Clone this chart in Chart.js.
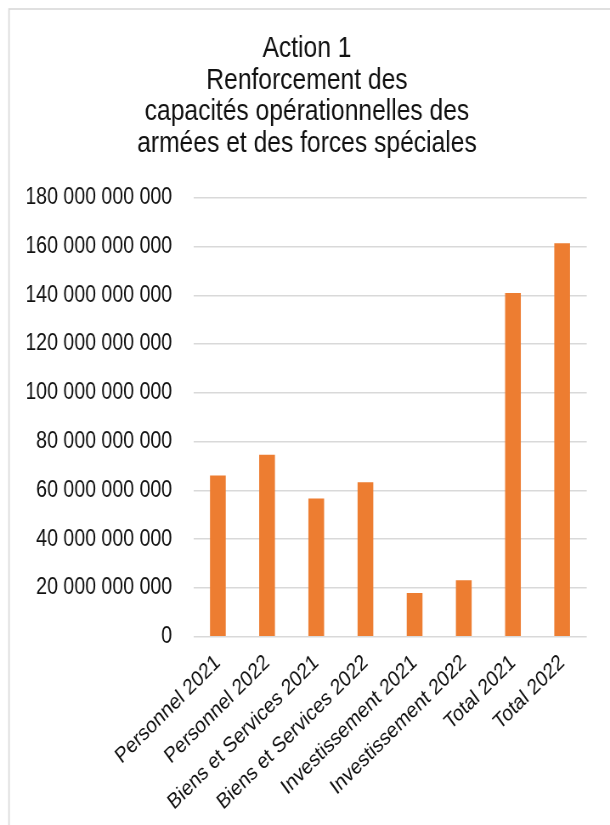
<!DOCTYPE html>
<html>
<head>
<meta charset="utf-8">
<script src="https://cdn.jsdelivr.net/npm/chart.js@4.4.1/dist/chart.umd.min.js"></script>
<style>
  html, body { margin: 0; padding: 0; background: #fff; overflow: hidden; width: 610px; height: 825px; }
  /* the chart is laid out on a wider canvas and narrowed to 610px,
     which gives the condensed lettering of the original sheet */
  #wrap { width: 718px; height: 825px; transform: scaleX(0.84958); transform-origin: 0 0; }
  canvas { display: block; }
</style>
</head>
<body>
<div id="wrap"><canvas id="c" width="718" height="825"></canvas></div>
<script>
// Budget lines for Action 1 (euros)
const categories = [
  'Personnel 2021', 'Personnel 2022',
  'Biens et Services 2021', 'Biens et Services 2022',
  'Investissement 2021', 'Investissement 2022',
  'Total 2021', 'Total 2022'
];
const amounts = [
  66.1e9, 74.6e9,
  56.7e9, 63.3e9,
  17.9e9, 23.2e9,
  141.0e9, 161.4e9
];
const titleLines = [
  'Action 1',
  'Renforcement des',
  'capacités opérationnelles des',
  'armées et des forces spéciales'
];
const axisMax = 180e9;
const axisStep = 20e9;

const FONT = "'Liberation Sans', Arial, sans-serif";
const TEXT = '#111111';

function groupThousands(v) {
  return String(Math.round(v)).replace(/\B(?=(\d{3})+(?!\d))/g, ' ');
}

// white background and thin frame around the chart
const framePlugin = {
  id: 'frame',
  beforeDraw(chart) {
    const ctx = chart.ctx;
    ctx.save();
    ctx.fillStyle = '#ffffff';
    ctx.fillRect(0, 0, chart.width, chart.height);
    ctx.strokeStyle = '#d9d9d9';
    ctx.lineWidth = 1.6;
    ctx.strokeRect(10.6, 9, chart.width + 20, chart.height + 20);
    ctx.restore();
  }
};

function draw() {
  new Chart(document.getElementById('c'), {
    type: 'bar',
    data: {
      labels: categories,
      datasets: [{
        data: amounts,
        backgroundColor: '#ED7D31',
        borderWidth: 0,
        categoryPercentage: 1,
        barPercentage: 0.32
      }]
    },
    options: {
      responsive: false,
      animation: false,
      devicePixelRatio: 1,
      layout: { padding: { left: 32, right: 27.4, top: 33, bottom: 0 } },
      plugins: {
        legend: { display: false },
        tooltip: { enabled: false },
        title: {
          display: true,
          text: titleLines,
          color: TEXT,
          font: { family: FONT, size: 29, weight: 'normal', lineHeight: 1.093 },
          padding: { top: 0, bottom: 38 }
        }
      },
      scales: {
        x: {
          grid: { display: false, drawTicks: false },
          border: { display: false },
          ticks: {
            color: TEXT,
            font: { family: FONT, size: 22 },
            minRotation: 40.4,
            maxRotation: 40.4,
            autoSkip: false,
            padding: 13
          },
          afterFit(scale) { scale.height = 188.3; }
        },
        y: {
          min: 0,
          max: axisMax,
          grid: { color: '#d9d9d9', lineWidth: 1.6, drawTicks: false },
          border: { display: false },
          ticks: {
            stepSize: axisStep,
            color: TEXT,
            font: { family: FONT, size: 23 },
            padding: 25,
            callback: (v) => groupThousands(v)
          },
          afterFit(scale) { scale.width = 195.5; }
        }
      }
    },
    plugins: [framePlugin]
  });
}

draw();
</script>
</body>
</html>
